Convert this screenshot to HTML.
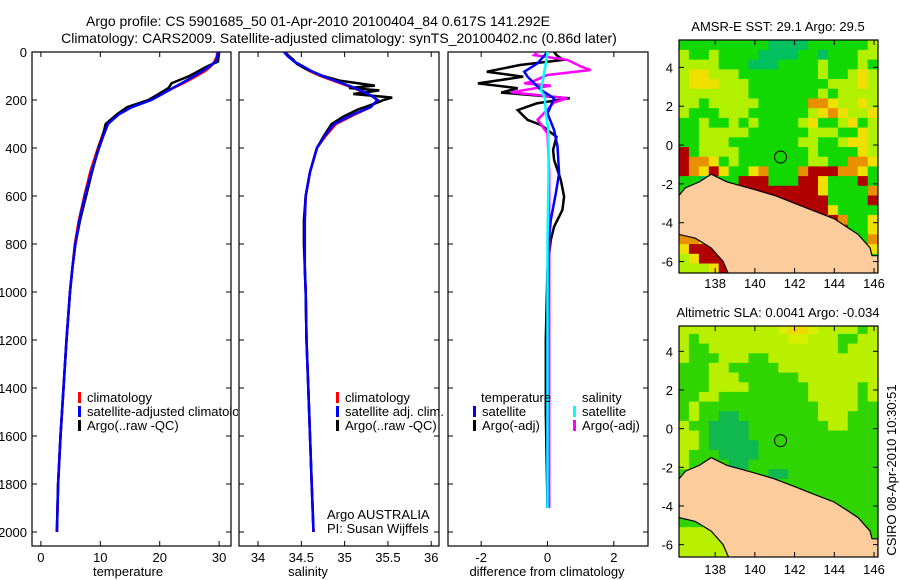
<!DOCTYPE html>
<html><head><meta charset="utf-8"><style>
body{margin:0;background:#fff}
svg{display:block;font-family:"Liberation Sans",sans-serif}
text{fill:#000}
</style></head><body>
<svg id="s" width="900" height="580" viewBox="0 0 900 580">
<rect width="900" height="580" fill="#fff"/>
<text x="318" y="26" font-size="14" text-anchor="middle">Argo profile: CS 5901685_50 01-Apr-2010 20100404_84 0.617S 141.292E</text>
<text x="339" y="43" font-size="14" text-anchor="middle">Climatology: CARS2009. Satellite-adjusted climatology: synTS_20100402.nc (0.86d later)</text>
<defs>
<clipPath id="c1"><rect x="32" y="52" width="206" height="494"/></clipPath>
<clipPath id="c2"><rect x="239" y="52" width="200" height="494"/></clipPath>
<clipPath id="c3"><rect x="448" y="52" width="200" height="494"/></clipPath>
<clipPath id="m1"><rect x="679" y="40" width="199" height="233"/></clipPath>
<clipPath id="m2"><rect x="679" y="326" width="199" height="231"/></clipPath>
</defs>
<g id="g"></g>
</svg>
<script>
// temperature / salinity profiles
const depthT=[0,20,40,60,80,100,130,150,180,200,230,260,300,350,400,500,600,700,800,900,1000,1200,1400,1600,1800,2000];
const climT=[29.7,29.6,29.2,28.6,27.6,26.2,24,22.3,20,18.4,15,13,11.1,10.3,9.6,8.3,7.3,6.4,5.7,5.3,4.9,4.3,3.8,3.3,2.9,2.7];
const satT=[29.8,29.7,29.4,28.4,27.2,25.8,23.7,22.2,20.1,18.6,15.3,13.1,11.3,10.5,9.8,8.5,7.4,6.5,5.8,5.3,4.9,4.3,3.8,3.3,2.9,2.7];
const argoT=[30,29.9,29.8,28.0,26.5,25.0,22.0,21.5,19.5,18.1,14.5,12.8,10.9,10.4,9.7,8.6,7.6,6.6,5.8,5.3,4.9,4.3,3.8,3.3,2.9,2.7];
const climS=[34.32,34.36,34.42,34.5,34.6,34.72,34.95,35.1,35.3,35.38,35.3,35.12,34.9,34.78,34.68,34.6,34.55,34.54,34.54,34.54,34.55,34.56,34.58,34.6,34.62,34.64];
const satS=[34.3,34.35,34.42,34.52,34.62,34.74,34.97,35.12,35.3,35.38,35.3,35.1,34.88,34.77,34.68,34.6,34.55,34.54,34.54,34.54,34.55,34.56,34.58,34.6,34.62,34.64];
const depthAS=[0,15,30,50,70,100,120,140,150,160,175,190,200,215,240,270,300,350,400,500,600,700,800,900,1000,1200,1400,1600,1800,2000];
const argoS=[34.3,34.35,34.4,34.45,34.55,34.75,34.95,35.35,35.05,35.4,35.1,35.55,35.45,35.35,35.15,34.98,34.85,34.76,34.68,34.6,34.55,34.53,34.53,34.54,34.55,34.56,34.58,34.6,34.62,34.64];
// differences
const dDepthA=[0,13,33,54,82,103,131,151,169,193,214,242,283,304,353,408,450,533,603,658,728,783,900,1200,1500,1900];
const dTargo=[0.2,0.27,0.47,-0.83,-1.83,-0.73,-2.1,-0.9,-1.4,0.67,-0.33,-0.9,-0.6,-0.2,0.27,0.17,0.2,0.4,0.5,0.45,0.2,0.1,0,-0.05,-0.05,0];
const dDepthS=[0,47,82,103,158,193,256,325,394,506,589,700,800,1200,1900];
const dTsat=[0,-0.3,-0.7,-0.6,-0.2,0.2,0,0.2,0.3,0.35,0.25,0.1,0.03,0,0];
const dSsat=[0,-0.05,-0.1,-0.12,-0.2,-0.08,-0.05,0.02,0.03,0.03,0.02,0.01,0,0,0];
const dDepthSA=[0,13,33,60,75,96,120,131,140,168,193,210,283,339,500,1000,1900];
const dSargo=[-0.3,-0.4,0.6,1.0,1.3,0,-0.4,-0.7,0.1,-1.1,0.6,0.2,-0.3,0,0.05,0.05,0.05];
// ticks
const depthTicks=[0,200,400,600,800,1000,1200,1400,1600,1800,2000];
const tTicks=[0,10,20,30];
const sTicks=["34","34.5","35","35.5","36"];
const dTicks=[-2,0,2];
const latTicks=[4,2,0,-2,-4,-6];
const lonTicks=[138,140,142,144,146];
// map grids (0.5 deg cells from lat 5.4 downward, lon 136.18 eastward)
const sstRows=["GGGGGGGGGTTTTGGGGGGg","gGGgGGGGTTTTGGTGGGgg","ggggGGGTTTGGGGgGGGgG","gYYgggGGGGGGGGgGGgYg","gYYYgggGGGGGGGGgggYg","gggggggGGGGGGGgGgggg","ggGgggggGGGGGOOYggYg","gGGGgggGGGGGGgYOYggY","GGgGGgGgGGGGgYGGgYGg","GGgggggGGGGGGgggGGYg","GGgggGGGGGGGggGGgYYg","RGggggGGGGGGGgGGGGYg","ROOYGgGGGGGGGggGGOOY","ROYRYGGYOGGGORRROOYG","GGTGGGRRRGGGRRYGGGRG","GGGGGGRRRRRRRRYGGGGO","GGGGGGGGGRRRRRRGGGGR","GGGGGGGGGGGRRRRYGGGG","GGGGGGGGGGGGGOYROGGY","GGGGGGGGGGGGGGGORGGY","OOYGGGGGGGGGGGGGGGGO","YRRRYGGGGGGGGGGGGGGY","gYRRRGGGGGGGGGGGGGGG","gggYRGGGGGGGGGGGGGGG"];
const slaRows=["ggggggggggyYYyggggGg","gGgggggggggyygggGGgg","gGGgggggggggggggGggg","gGGGgggGGggggggggggg","GGGggGGGGGgggggggggg","GGGgggGGGGGGgggggggg","GGGggggGGGGGGgggggGg","GGggGGGGGGGGGgggggGg","GgGGGGGGGGGGGGggggGG","GgGGDDGGGGGGGGgggGGG","gGGDDDDGGGGGGGGggGGG","ggGDDDDGGGGGGGGGGGGG","ggGDDDDDGGGGGGGGGGGG","gGGGDDDDGGGGGGGGGGGG","gGGGGDDGGGGGGGGGGGGG","GGGGGGGGGDDGGGGGGGGG","GGGGGGGGGDGGGGGGGGGG","GGGGGGGGGGGGGGGGGGGG","GGGGGGGGGGGGGGGGGGGG","GGGGGGGGGGGGGGGGGGGG","GGGGGGGGGGGGGGGGGGGG","gggggGGGGGGGGGGGGGGG","gggggggGGGGGGGGGGGGG","gggggggGGGGGGGGGGGGG"];
const coastLon=[136.18,136.5,137.2,137.8,138.6,139.3,140,141,142,143,144,144.6,145.2,145.8,145.9,146.2,146.2,138.7,138.4,137.8,137,136.18];
const coastLat=[-2.6,-2.2,-1.9,-1.5,-1.9,-2.1,-2.3,-2.6,-3.0,-3.4,-3.8,-4.2,-4.6,-5.3,-5.7,-5.7,-6.7,-6.7,-6,-5.3,-4.8,-4.6];
const floatLon=141.292, floatLat=-0.617;

const NS='http://www.w3.org/2000/svg';
const G=document.getElementById('g');
function mk(tag,attrs,parent,txt){const e=document.createElementNS(NS,tag);for(const k in attrs)e.setAttribute(k,attrs[k]);if(txt!==undefined)e.textContent=txt;(parent||G).appendChild(e);return e;}
const yTop=52,yBot=546,yD=d=>yTop+d*0.24;
const panels=[
 {x0:32,x1:231,xmin:-1.5,xmax:32,clip:'c1',label:'temperature',lx:128,name:'temperature-panel'},
 {x0:239,x1:439,xmin:33.78,xmax:36.09,clip:'c2',label:'salinity',lx:308,name:'salinity-panel'},
 {x0:448,x1:648,xmin:-3,xmax:3.03,clip:'c3',label:'difference from climatology',lx:547,name:'difference-panel'}];
panels.forEach(p=>{p.sx=v=>p.x0+(v-p.xmin)/(p.xmax-p.xmin)*(p.x1-p.x0);});

function line(p,xs,ys,color,name,w){
  const pts=xs.map((v,i)=>p.sx(v).toFixed(1)+','+yD(ys[i]).toFixed(1)).join(' ');
  const e=mk('polyline',{points:pts,fill:'none',stroke:color,'stroke-width':w||2.5,'clip-path':'url(#'+p.clip+')'});
  
  
}
panels.forEach((p,pi)=>{
  const r=mk('rect',{x:p.x0,y:yTop,width:p.x1-p.x0,height:yBot-yTop,fill:'#fff',stroke:'#000','stroke-width':1.2});
  
  
  depthTicks.forEach(d=>{
    mk('line',{x1:p.x0,x2:p.x0+5,y1:yD(d),y2:yD(d),stroke:'#000'});
    mk('line',{x1:p.x1,x2:p.x1-5,y1:yD(d),y2:yD(d),stroke:'#000'});
    if(pi===0){const t=mk('text',{x:27,y:yD(d)+5,'font-size':13,'text-anchor':'end'},G,String(d));
      
      }
  });
  const ticks=pi===0?tTicks:pi===1?sTicks:dTicks;
  ticks.forEach(v=>{const x=p.sx(+v);
    mk('line',{x1:x,x2:x,y1:yTop,y2:yTop+5,stroke:'#000'});
    mk('line',{x1:x,x2:x,y1:yBot,y2:yBot-5,stroke:'#000'});
    const t=mk('text',{x:x,y:562,'font-size':13,'text-anchor':'middle'},G,String(v));
    
    
  });
  const t=mk('text',{x:p.lx,y:576,'font-size':13,'text-anchor':'middle'},G,p.label);
  
  
});
const [P1,P2,P3]=panels;
line(P1,climT,depthT,'#f00','temp-climatology-line');
line(P1,argoT,depthT,'#000','temp-argo-line');
line(P1,satT,depthT,'#00f','temp-satellite-line');
line(P2,climS,depthT,'#f00','sal-climatology-line');
line(P2,argoS,depthAS,'#000','sal-argo-line');
line(P2,satS,depthT,'#00f','sal-satellite-line');
line(P3,dTargo,dDepthA,'#000','diff-temp-argo-line');
line(P3,dSargo,dDepthSA,'#f0f','diff-sal-argo-line');
line(P3,dTsat,dDepthS,'#00f','diff-temp-satellite-line');
line(P3,dSsat,dDepthS,'#0ff','diff-sal-satellite-line');

function leg(x,y,color,txt,name,clip){
  const g=mk('g',clip?{'clip-path':'url(#'+clip+')'}:{});
  
  
  if(color)mk('rect',{x:x,y:y-10,width:3,height:11,fill:color},g);
  mk('text',{x:x+9,y:y,'font-size':13},g,txt);
}
leg(78,402,'#f00','climatology','legend-climatology','c1');
leg(78,416,'#00f','satellite-adjusted climatology','legend-satellite-adjusted','c1');
leg(78,430,'#000','Argo(..raw -QC)','legend-argo','c1');
leg(336,402,'#f00','climatology','legend-sal-climatology');
leg(336,416,'#00f','satellite adj. clim.','legend-sal-satellite');
leg(336,430,'#000','Argo(..raw -QC)','legend-sal-argo');
leg(472,402,null,'temperature','legend-temperature-header');
leg(473,416,'#00f','satellite','legend-diff-temp-satellite');
leg(473,430,'#000','Argo(-adj)','legend-diff-temp-argo');
leg(573,402,null,'salinity','legend-salinity-header');
leg(573,416,'#0ff','satellite','legend-diff-sal-satellite');
leg(573,430,'#f0f','Argo(-adj)','legend-diff-sal-argo');
let t=mk('text',{x:327,y:519,'font-size':13},G,'Argo AUSTRALIA');


t=mk('text',{x:327,y:533,'font-size':13},G,'PI: Susan Wijffels');



// maps
const lon0=136.18,lon1=146.2;
function drawMap(y0,y1,latTop,latBot,rows,pal,clip,title,name,lblY){
  const sx=v=>679+(v-lon0)/(lon1-lon0)*199;
  const sy=v=>y0+(latTop-v)/(latTop-latBot)*(y1-y0);
  const g=mk('g',{'clip-path':'url(#'+clip+')'});
  
  
  rows.forEach((row,r)=>{for(let c=0;c<row.length;c++){
    const la=5.4-0.5*r, lo=lon0+0.5*c;
    const cell=mk('rect',{x:sx(lo).toFixed(1),y:sy(la).toFixed(1),width:(sx(lo+0.5)-sx(lo)+0.6).toFixed(1),height:(sy(la-0.5)-sy(la)+0.6).toFixed(1),fill:pal[row[c]]||pal.G},g);
    
    
  }});
  const land=mk('polygon',{points:coastLon.map((v,i)=>sx(v).toFixed(1)+','+sy(coastLat[i]).toFixed(1)).join(' '),fill:'#fccc9c',stroke:'#000','stroke-width':1.2},g);
  
  
  const c=mk('circle',{cx:sx(floatLon),cy:sy(floatLat),r:6,fill:'none',stroke:'#000','stroke-width':1},g);
  
  
  const fr=mk('rect',{x:679,y:y0,width:199,height:y1-y0,fill:'none',stroke:'#000','stroke-width':1.2});
  
  
  latTicks.forEach(v=>{const y=sy(v);
    mk('line',{x1:679,x2:684,y1:y,y2:y,stroke:'#000'});mk('line',{x1:878,x2:873,y1:y,y2:y,stroke:'#000'});
    const tt=mk('text',{x:673,y:y+5,'font-size':13,'text-anchor':'end'},G,String(v));
    
    });
  lonTicks.forEach(v=>{const x=sx(v);
    mk('line',{x1:x,x2:x,y1:y0,y2:y0+5,stroke:'#000'});mk('line',{x1:x,x2:x,y1:y1,y2:y1-5,stroke:'#000'});
    const tt=mk('text',{x:x,y:lblY,'font-size':13,'text-anchor':'middle'},G,String(v));
    
    });
  const tt=mk('text',{x:778,y:y0-9,'font-size':13,'text-anchor':'middle'},G,title);
  
  
}
drawMap(40,273,5.41,-6.59,sstRows,{G:'#10d800',g:'#b0f000',T:'#00c060',Y:'#f0e000',O:'#e89000',R:'#b00000'},'m1','AMSR-E SST: 29.1 Argo: 29.5','sst-map',288);
drawMap(326,557,5.31,-6.64,slaRows,{G:'#30d400',g:'#b8f000',D:'#10b850',y:'#d8f000',Y:'#f0d800'},'m2','Altimetric SLA: 0.0041 Argo: -0.034','sla-map',574);
t=mk('text',{x:0,y:0,'font-size':13,'text-anchor':'middle',transform:'translate(896,470) rotate(-90)'},G,'CSIRO 08-Apr-2010 10:30:51');


</script>
</body></html>
